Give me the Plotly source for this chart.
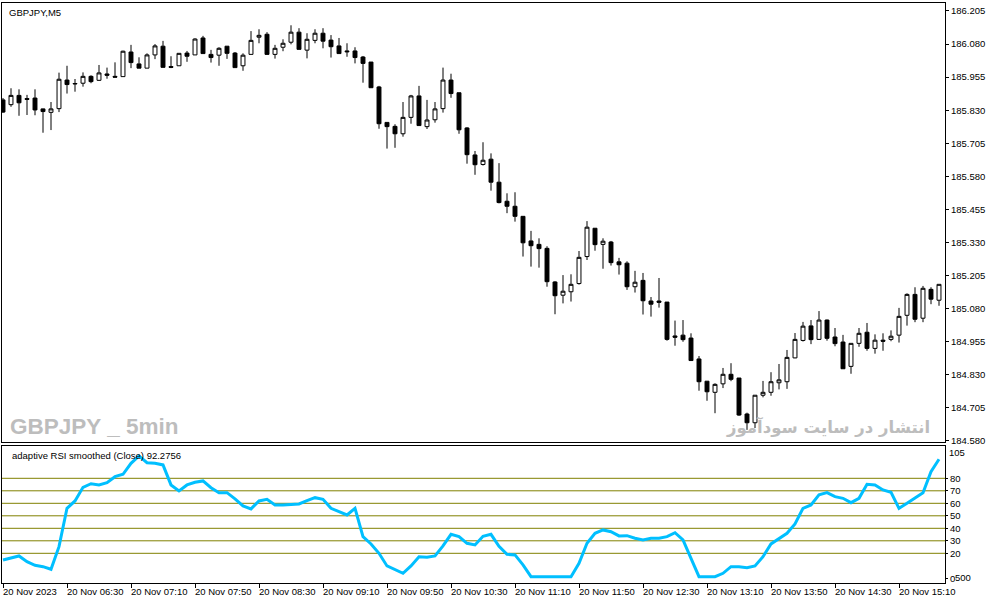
import plotly.graph_objects as go
import pandas as pd

# ---------------- data ----------------
times = pd.date_range("2023-11-20 05:50", periods=118, freq="5min")

opens = [
    185.869, 185.851, 185.886, 185.874, 185.876, 185.835, 185.822, 185.836, 185.944, 185.929,
    185.932, 185.958, 185.943, 185.967, 185.958, 185.957, 186.050, 186.005, 185.989, 186.039,
    186.072, 185.995, 185.998, 186.046, 186.039, 186.103, 186.041, 186.038, 186.072, 186.046,
    185.998, 186.041, 186.106, 186.117, 186.041, 186.068, 186.087, 186.125, 186.057, 186.094,
    186.121, 186.095, 186.073, 186.054, 186.054, 186.031, 186.012, 185.918, 185.784, 185.769,
    185.741, 185.803, 185.884, 185.768, 185.794, 185.836, 185.944, 185.896, 185.763, 185.661,
    185.625, 185.645, 185.558, 185.486, 185.467, 185.429, 185.336, 185.323, 185.308, 185.181,
    185.131, 185.144, 185.175, 185.277, 185.384, 185.323, 185.332, 185.257, 185.252, 185.163,
    185.187, 185.109, 185.109, 185.105, 184.977, 184.980, 184.969, 184.890, 184.806, 184.764,
    184.796, 184.832, 184.818, 184.682, 184.649, 184.753, 184.764, 184.800, 184.804, 184.894,
    184.960, 185.015, 184.964, 185.037, 184.973, 184.954, 184.862, 184.949, 184.991, 184.930,
    184.961, 184.964, 184.980, 185.055, 185.134, 185.044, 185.153, 185.112,
]
highs = [
    185.876, 185.913, 185.909, 185.888, 185.909, 185.836, 185.861, 185.972, 185.998, 185.948,
    185.973, 185.962, 186.001, 185.991, 186.011, 186.055, 186.077, 186.030, 186.045, 186.080,
    186.092, 186.034, 186.045, 186.054, 186.102, 186.111, 186.058, 186.068, 186.072, 186.050,
    186.045, 186.129, 186.136, 186.125, 186.077, 186.098, 186.151, 186.140, 186.121, 186.136,
    186.140, 186.114, 186.103, 186.083, 186.068, 186.035, 186.012, 185.922, 185.784, 185.777,
    185.861, 185.888, 185.922, 185.869, 185.861, 185.991, 185.968, 185.896, 185.766, 185.676,
    185.709, 185.667, 185.630, 185.516, 185.520, 185.429, 185.374, 185.346, 185.316, 185.184,
    185.207, 185.210, 185.298, 185.411, 185.384, 185.346, 185.336, 185.272, 185.259, 185.223,
    185.215, 185.124, 185.196, 185.105, 185.035, 185.037, 184.987, 184.901, 184.806, 184.798,
    184.856, 184.874, 184.818, 184.687, 184.753, 184.807, 184.840, 184.871, 184.924, 184.988,
    185.030, 185.037, 185.071, 185.039, 185.007, 184.981, 184.949, 185.007, 185.026, 184.983,
    184.987, 184.998, 185.083, 185.138, 185.161, 185.166, 185.161, 185.172,
]
lows = [
    185.820, 185.843, 185.809, 185.812, 185.811, 185.745, 185.755, 185.823, 185.893, 185.900,
    185.919, 185.932, 185.941, 185.949, 185.955, 185.957, 185.989, 185.989, 185.989, 186.023,
    185.992, 185.989, 185.998, 186.013, 186.039, 186.044, 186.010, 185.998, 186.024, 185.991,
    185.979, 186.041, 186.083, 186.041, 186.025, 186.053, 186.079, 186.060, 186.026, 186.083,
    186.064, 186.029, 186.044, 186.032, 186.007, 185.934, 185.915, 185.760, 185.685, 185.688,
    185.730, 185.779, 185.772, 185.759, 185.783, 185.821, 185.877, 185.741, 185.628, 185.586,
    185.621, 185.526, 185.478, 185.441, 185.409, 185.277, 185.239, 185.235, 185.163, 185.059,
    185.100, 185.107, 185.171, 185.264, 185.299, 185.231, 185.243, 185.209, 185.151, 185.141,
    185.058, 185.050, 185.084, 184.959, 184.940, 184.955, 184.884, 184.770, 184.732, 184.685,
    184.780, 184.806, 184.675, 184.622, 184.629, 184.745, 184.751, 184.775, 184.777, 184.893,
    184.956, 184.946, 184.962, 184.959, 184.938, 184.853, 184.834, 184.936, 184.921, 184.910,
    184.921, 184.957, 184.952, 185.016, 185.029, 185.029, 185.097, 185.091,
]
closes = [
    185.823, 185.886, 185.858, 185.871, 185.831, 185.825, 185.835, 185.947, 185.927, 185.931,
    185.958, 185.938, 185.971, 185.962, 185.955, 186.053, 186.010, 185.989, 186.039, 186.073,
    185.992, 185.992, 186.045, 186.034, 186.099, 186.044, 186.029, 186.064, 186.045, 185.991,
    186.038, 186.094, 186.113, 186.041, 186.064, 186.083, 186.125, 186.060, 186.098, 186.121,
    186.091, 186.070, 186.044, 186.051, 186.029, 186.007, 185.915, 185.779, 185.768, 185.741,
    185.803, 185.884, 185.772, 185.793, 185.835, 185.944, 185.893, 185.756, 185.662, 185.624,
    185.641, 185.558, 185.481, 185.467, 185.429, 185.329, 185.318, 185.307, 185.182, 185.129,
    185.146, 185.172, 185.274, 185.388, 185.322, 185.335, 185.254, 185.246, 185.163, 185.180,
    185.110, 185.097, 185.104, 184.964, 184.972, 184.963, 184.884, 184.804, 184.766, 184.794,
    184.832, 184.813, 184.678, 184.649, 184.753, 184.764, 184.804, 184.811, 184.896, 184.964,
    185.014, 184.963, 185.037, 184.968, 184.948, 184.853, 184.949, 184.987, 184.930, 184.961,
    184.957, 184.976, 185.051, 185.134, 185.040, 185.157, 185.116, 185.172,
]
rsi = [
    14.7, 16.0, 17.9, 13.3, 10.4, 9.3, 7.2, 25.3, 56.0, 61.9,
    72.8, 75.7, 74.7, 76.5, 81.3, 83.2, 92.0, 97.9, 92.5, 92.0,
    90.7, 74.7, 69.9, 74.7, 76.8, 77.9, 72.5, 68.5, 68.5, 63.5,
    57.9, 55.5, 61.9, 63.2, 58.7, 58.7, 59.2, 59.5, 62.1, 64.5,
    63.2, 56.0, 53.3, 50.7, 56.0, 33.3, 27.5, 20.0, 9.9, 6.7,
    4.0, 9.9, 17.3, 16.8, 17.9, 25.9, 35.2, 33.3, 28.0, 26.7,
    33.6, 35.2, 25.6, 19.2, 18.7, 10.7, 1.3, 1.3, 1.3, 1.3,
    1.3, 1.3, 12.0, 28.0, 36.0, 38.7, 37.3, 33.9, 34.1, 32.0,
    30.7, 32.0, 32.0, 33.3, 36.5, 30.7, 16.0, 1.3, 1.3, 1.3,
    4.0, 9.3, 9.3, 8.5, 9.9, 17.3, 27.5, 31.5, 36.0, 43.5,
    56.0, 58.7, 66.7, 68.5, 65.3, 64.0, 60.5, 64.0, 75.2, 74.7,
    70.7, 68.8, 56.0, 60.0, 64.0, 68.5, 85.3, 95.2,
]

price_ticks = [184.580, 184.705, 184.830, 184.955, 185.080, 185.205, 185.330,
               185.455, 185.580, 185.705, 185.830, 185.955, 186.080, 186.205]
rsi_levels = [80, 70, 60, 50, 40, 30, 20]
rsi_ticks = [80, 70, 60, 50, 40, 30, 20, 0]

tick_times = ["05:50", "06:30", "07:10", "07:50", "08:30", "09:10", "09:50", "10:30",
              "11:10", "11:50", "12:30", "13:10", "13:50", "14:30", "15:10"]
tick_labels = ["20 Nov 2023"] + ["20 Nov " + t for t in tick_times[1:]]

title_text = "GBPJPY,M5"
legend_text = "adaptive RSI smoothed (Close) 92.2756"
watermark_en = "GBPJPY _ 5min"
watermark_fa = "انتشار در سایت سودآموز"

# ---------------- figure ----------------
pos = list(range(len(times)))
time_str = [t.strftime("%H:%M") for t in times]
tick_pos = [time_str.index(t) for t in tick_times]

FONT = "Liberation Sans, Arial, sans-serif"

fig = go.Figure()
fig.add_trace(go.Candlestick(
    x=pos, open=opens, high=highs, low=lows, close=closes,
    increasing=dict(line=dict(color="black", width=1), fillcolor="white"),
    decreasing=dict(line=dict(color="black", width=1), fillcolor="black"),
    whiskerwidth=0, xaxis="x", yaxis="y", showlegend=False, hoverinfo="skip",
))
fig.add_trace(go.Scatter(
    x=pos, y=rsi, mode="lines", line=dict(color="#00BFFF", width=3),
    xaxis="x2", yaxis="y2", showlegend=False, hoverinfo="skip",
))

xr = [-0.125, 117.75]
main_dom = [141 / 580, 1.0]
sub_dom = [0.0, 137 / 580]

shapes = [
    dict(type="line", xref="x2 domain", yref="y2", x0=0, x1=1, y0=lv, y1=lv,
         line=dict(color="#808000", width=1), layer="below")
    for lv in rsi_levels
]

annotations = [
    dict(text=title_text, xref="paper", yref="paper", x=0.005, y=1.0,
         xanchor="left", yanchor="top", yshift=-2, showarrow=False,
         font=dict(family=FONT, size=9.5, color="black")),
    dict(text=legend_text, xref="paper", yref="paper", x=0.008, y=sub_dom[1],
         xanchor="left", yanchor="top", yshift=-2, showarrow=False,
         font=dict(family=FONT, size=9.5, color="black")),
    dict(text="<b>" + watermark_en + "</b>", xref="paper", yref="paper", x=0.006,
         y=main_dom[0], xanchor="left", yanchor="bottom", yshift=1, showarrow=False,
         font=dict(family="Liberation Sans, Arial", size=22.5, color="#bdbdbd")),
    dict(text="<b>" + watermark_fa + "</b>", xref="paper", yref="paper", x=0.986,
         y=main_dom[0], xanchor="right", yanchor="bottom", yshift=2, showarrow=False,
         font=dict(family="DejaVu Sans", size=16.5, color="#bdbdbd")),
    dict(text="105", xref="paper", yref="y2", x=1.0, y=105, xanchor="left",
         yanchor="middle", xshift=2, yshift=-5, showarrow=False,
         font=dict(family=FONT, size=9.5, color="black")),
    dict(text="500", xref="paper", yref="y2", x=1.0, y=0, xanchor="left",
         yanchor="middle", xshift=8, yshift=1, showarrow=False,
         font=dict(family=FONT, size=9.5, color="black")),
]
for p, lab in zip(tick_pos, tick_labels):
    annotations.append(dict(
        text=lab, xref="x2", yref="paper", x=p, y=0, xanchor="left", yanchor="top",
        xshift=-2, yshift=-1, showarrow=False,
        font=dict(family=FONT, size=9.5, color="black")))

axis_common = dict(showline=True, linecolor="black", linewidth=1, mirror=True,
                   showgrid=False, zeroline=False)

fig.update_layout(
    width=991, height=605,
    margin=dict(l=2, r=46, t=3, b=22),
    paper_bgcolor="white", plot_bgcolor="white",
    font=dict(family=FONT, size=9.5, color="black"),
    xaxis=dict(domain=[0, 1], anchor="y", range=xr, showticklabels=False, ticks="",
               rangeslider=dict(visible=False), **axis_common),
    xaxis2=dict(domain=[0, 1], anchor="y2", range=xr, tickvals=tick_pos,
                ticks="outside", ticklen=4, tickcolor="black", showticklabels=False,
                **axis_common),
    yaxis=dict(domain=main_dom, anchor="x", side="right",
               range=[184.5762, 186.2352], tickvals=price_ticks,
               ticktext=[f"{v:.3f}" for v in price_ticks],
               ticks="outside", ticklen=3, tickcolor="black",
               tickfont=dict(family=FONT, size=9.5, color="black"), **axis_common),
    yaxis2=dict(domain=sub_dom, anchor="x2", side="right",
                range=[-3.76, 105.84], tickvals=rsi_ticks,
                ticktext=[str(v) for v in rsi_ticks],
                ticks="outside", ticklen=2, tickcolor="black",
                tickfont=dict(family=FONT, size=9.5, color="black"), **axis_common),
    shapes=shapes,
    annotations=annotations,
)

fig.write_html("out.html", config={"displayModeBar": False},
               post_script="document.body.style.margin='0';document.body.style.overflow='hidden';")
